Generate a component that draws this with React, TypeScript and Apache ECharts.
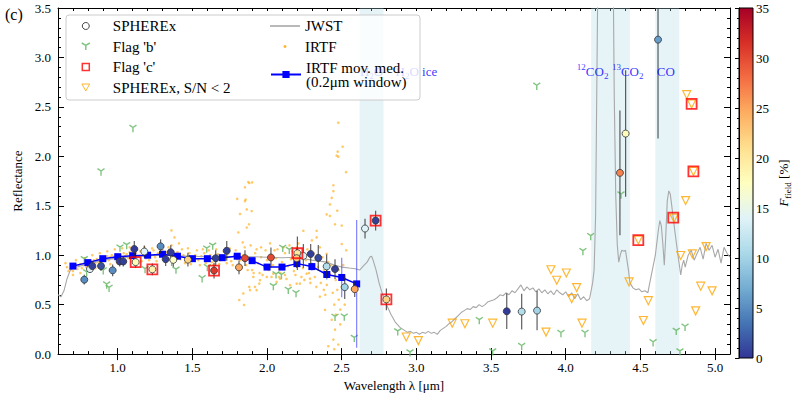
import React, { useEffect, useRef } from 'react';
import * as echarts from 'echarts';

const FONT = 'Liberation Serif';

// JWST spectrum
const JWST_WL = [0.6,0.62,0.64,0.66,0.68,0.7,0.75,0.8,0.85,0.9,0.95,1.0,1.1,1.2,1.3,1.4,1.5,1.6,1.7,1.8,1.9,2.0,2.1,2.2,2.25,2.3,2.35,2.4,2.45,2.5,2.55,2.59,2.62,2.65,2.67,2.69,2.7,2.71,2.73,2.75,2.77,2.8,2.83,2.86,2.89,2.92,2.94,2.96,2.98,3.0,3.02,3.04,3.06,3.08,3.1,3.12,3.14,3.16,3.18,3.2,3.22,3.24,3.26,3.28,3.3,3.32,3.34,3.36,3.38,3.4,3.42,3.44,3.46,3.48,3.5,3.52,3.54,3.56,3.58,3.6,3.62,3.64,3.66,3.68,3.7,3.72,3.74,3.76,3.78,3.8,3.82,3.84,3.86,3.88,3.9,3.92,3.94,3.96,3.98,4.0,4.02,4.04,4.06,4.08,4.1,4.12,4.14,4.16,4.18,4.19,4.2,4.205,4.21,4.215,4.25,4.3,4.318,4.325,4.335,4.345,4.355,4.365,4.375,4.39,4.4,4.41,4.42,4.43,4.45,4.47,4.49,4.51,4.53,4.55,4.56,4.58,4.6,4.62,4.63,4.64,4.65,4.66,4.67,4.68,4.69,4.7,4.71,4.73,4.75,4.77,4.78,4.79,4.8,4.82,4.84,4.86,4.88,4.9,4.92,4.94,4.96,4.98,5.0,5.02,5.04,5.06,5.08,5.1];
const JWST_R = [0.6,0.58,0.64,0.76,0.84,0.87,0.89,0.91,0.93,0.95,0.96,0.97,0.985,0.995,1.0,0.995,0.99,0.985,0.985,0.99,0.985,0.98,0.975,0.98,0.965,0.95,0.94,0.93,0.9,0.88,0.87,0.863,0.85,0.9,0.93,0.985,0.99,0.95,0.85,0.72,0.62,0.5,0.4,0.32,0.27,0.24,0.22,0.23,0.21,0.22,0.2,0.22,0.21,0.23,0.21,0.22,0.2,0.24,0.26,0.28,0.31,0.33,0.36,0.39,0.42,0.44,0.46,0.45,0.48,0.47,0.5,0.48,0.5,0.53,0.54,0.55,0.57,0.6,0.59,0.62,0.6,0.64,0.62,0.66,0.7,0.64,0.68,0.65,0.67,0.63,0.66,0.62,0.65,0.61,0.64,0.6,0.65,0.62,0.6,0.63,0.58,0.62,0.56,0.61,0.55,0.58,0.54,0.56,0.72,0.85,1.4,2.2,3.0,3.8,4.5,4.5,3.8,2.6,1.6,1.11,0.93,1.0,1.05,1.04,1.05,0.95,0.85,0.72,0.67,0.65,0.66,0.63,0.64,0.62,0.7,0.85,1.0,1.25,1.35,1.3,1.12,0.9,1.2,1.55,1.65,1.62,1.5,1.25,1.02,0.8,0.9,0.95,0.88,1.0,1.05,0.95,1.02,1.08,0.96,1.12,1.05,1.1,0.98,1.06,0.92,1.08,1.02,0.98];

// IRTF individual points
const IRTF_PTS: [number, number][] = [
[0.65,0.92],[0.66,0.88],[0.67,0.84],[0.68,0.86],[0.69,0.9],[0.7,0.84],[0.71,0.88],[0.72,0.9],[0.73,0.86],[0.74,0.89],[0.75,0.91],[0.76,0.87],[0.77,0.9],[0.78,0.92],[0.79,0.88],[0.8,0.93],[0.81,0.9],[0.82,0.94],[0.83,0.91],[0.84,0.95],[0.85,0.92],[0.86,0.96],[0.87,0.93],[0.88,0.95],[0.89,0.97],[0.9,0.94],[0.91,0.98],[0.92,0.96],[0.93,0.99],[0.94,0.95],[0.95,0.98],[0.96,1.0],[0.97,0.97],[0.98,0.99],[0.99,1.01],
[1.01,0.97],[1.02,1.0],[1.03,0.98],[1.04,1.02],[1.05,0.99],[1.06,1.01],[1.07,0.97],[1.08,1.03],[1.09,1.0],[1.1,0.98],[1.12,1.02],[1.14,0.99],[1.15,1.04],[1.17,1.0],[1.19,0.97],[1.2,1.02],[1.22,1.0],[1.24,1.05],[1.25,0.98],[1.27,1.02],[1.29,1.0],[1.3,1.06],[1.31,0.97],[1.33,1.03],[1.35,1.0],[1.36,1.1],[1.36,1.25],[1.38,1.18],[1.39,0.98],[1.4,1.03],[1.41,1.12],
[1.42,0.96],[1.44,1.0],[1.46,0.94],[1.48,1.02],[1.5,0.97],[1.52,1.0],[1.54,0.95],[1.56,0.99],[1.58,1.02],[1.6,0.96],[1.62,1.0],[1.63,0.93],[1.65,0.98],[1.67,1.01],[1.69,0.95],[1.7,1.0],[1.72,0.97],[1.74,1.02],[1.76,0.94],[1.78,0.99],[1.8,0.96],
[1.8,1.57],[1.808,1.23],[1.814,0.547],[1.819,1.417],[1.837,1.13],[1.841,0.613],[1.846,0.497],[1.852,1.687],[1.852,1.547],[1.857,1.563],[1.864,1.28],[1.864,1.463],[1.874,1.74],[1.879,1.313],[1.881,0.68],[1.881,1.73],[1.886,0.647],[1.897,1.447],[1.9,1.737],[1.908,0.78],[1.919,0.68],[1.93,0.647],[1.948,0.713],[1.953,0.747],[1.998,0.78],[2.042,0.813],[2.064,0.73],[2.087,0.763],[2.154,0.697],[2.198,0.713],[2.22,0.713],[2.243,1.247],[2.265,0.813],[2.288,0.763],[2.332,1.247],[2.332,1.18],[2.354,1.08],[2.354,0.58],[2.388,0.447],[2.399,1.413],[2.399,1.013],[2.41,0.08],[2.421,1.513],[2.421,1.397],[2.421,0.813],[2.433,1.58],[2.433,0.347],[2.444,1.647],[2.444,1.707],[2.444,0.147],[2.455,1.313],[2.455,0.247],[2.466,2.007],[2.473,2.047],[2.477,2.34],[2.477,1.997],[2.477,0.097],[2.5,1.113],[2.506,2.097],[2.529,1.84],
[1.82,0.95],[1.84,1.0],[1.86,0.9],[1.88,0.97],[1.9,0.85],[1.92,1.02],[1.94,0.92],[1.96,0.98],[1.98,0.88],[2.0,0.95],[2.02,1.0],[2.04,0.9],[2.06,0.97],[2.08,0.86],[2.1,0.93],[2.12,1.02],[2.14,0.89],[2.16,0.96],[2.18,0.84],[2.2,0.93],[2.22,0.99],[2.24,0.87],[2.26,0.95],[2.28,0.82],[2.3,0.91],[2.32,0.78],[2.34,0.88],[2.36,0.72],[2.38,0.85],[2.4,0.7],[2.42,0.8],[2.44,0.62],[2.46,0.75],[2.48,0.55],[2.5,0.68],[2.02,1.12],[2.15,1.1],[2.3,1.15],[1.96,1.08],[2.08,0.78],[2.25,0.75],[2.38,0.65],[2.46,0.4],[2.49,0.3],[2.47,1.45],[2.5,1.3],[2.52,0.5],[2.51,0.9],[2.53,1.05],[2.45,0.05],[2.12,0.8],[1.95,0.82],[2.05,1.05],[2.2,1.08],[2.35,0.95],[2.28,1.02],[2.41,0.93],[2.48,0.85],
[0.7,0.8],[0.72,0.95],[0.75,0.82],[0.78,0.97],[0.8,0.85],[0.83,1.0],[0.85,0.87],[0.88,1.02],[0.9,0.9],[0.93,1.04],[0.95,0.91],[0.98,1.06],[1.0,0.92],[1.03,1.07],[1.05,0.93],[1.08,1.08],[1.1,0.94],[1.13,1.06],[1.16,0.94],[1.18,1.08],[1.21,0.95],[1.23,1.07],[1.26,0.94],[1.28,1.09],[1.32,0.95],[1.34,1.08],[1.37,0.93],[1.43,1.06],[1.45,0.92],[1.47,1.07],[1.49,0.91],[1.53,1.05],[1.55,0.9],[1.57,1.06],[1.59,0.92],[1.61,1.05],[1.64,0.9],[1.66,1.06],[1.68,0.91],[1.71,1.04],[1.73,0.92],[1.75,1.07],[1.77,0.9],[1.79,1.05],[1.83,0.88],[1.85,1.08],[1.87,0.85],[1.89,1.1],[1.91,0.82],[1.93,1.06],[1.97,0.8],[1.99,1.05],[2.01,0.85],[2.03,0.78],[2.07,1.06],[2.09,0.82],[2.11,1.08],[2.13,0.76],[2.17,1.04],[2.19,0.8],[2.21,1.12],[2.23,0.78],[2.27,1.06],[2.29,0.72],[2.31,1.02],[2.33,0.68],[2.37,0.98],[2.39,0.6],[2.43,0.9],[2.45,0.5],[2.47,0.65],[2.49,0.45]
];

// IRTF moving median (0.2 um window)
const MED_WL = [0.7,0.8,0.9,1.0,1.1,1.2,1.3,1.4,1.5,1.6,1.7,1.8,1.9,2.0,2.1,2.2,2.3,2.4,2.5,2.6];
const MED_R = [0.89,0.925,0.965,0.985,0.995,1.0,1.01,0.99,0.965,0.965,0.975,0.99,0.945,0.88,0.88,0.915,0.885,0.805,0.775,0.71];
const MED_ERR = [0.02,0.02,0.02,0.02,0.02,0.02,0.02,0.02,0.02,0.02,0.02,0.02,0.03,0.03,0.03,0.03,0.04,0.05,0.2,0.645];

// SPHEREx points
const SPX_WL = [0.776,0.814,0.83,0.888,0.966,1.013,1.037,1.111,1.12,1.178,1.232,1.287,1.321,1.355,1.372,1.47,1.645,1.656,1.73,1.812,1.852,2.026,2.203,2.198,2.243,2.292,2.343,2.399,2.455,2.52,2.587,2.656,2.727,2.799,3.605,3.705,3.808,4.363,4.401,4.618];
const SPX_R = [0.753,0.86,0.89,0.89,0.847,0.937,0.937,1.063,0.93,1.037,0.857,1.09,0.96,1.03,0.953,0.955,0.845,0.97,1.045,0.877,0.97,0.977,1.02,0.97,0.993,1.013,0.973,0.887,0.86,0.677,0.657,1.27,1.35,0.553,0.433,0.43,0.44,1.833,2.23,3.18];
const SPX_ERR = [0.05,0.04,0.05,0.05,0.06,0.05,0.05,0.08,0.06,0.06,0.06,0.07,0.07,0.07,0.07,0.07,0.08,0.08,0.1,0.07,0.08,0.1,0.17,0.1,0.12,0.1,0.13,0.12,0.1,0.12,0.08,0.1,0.1,0.11,0.18,0.18,0.2,0.63,0.64,1.0];
const SPX_F = [5,14,0.5,1.5,5,0.5,0.5,0.3,18,14,19,5,0.5,0.5,17,22,31,0.5,0.5,25,30,30,20,22,14,0.5,1,11,0.5,10,25,14,0.5,22,0.3,11,10,27,18,6];

const FLAGB_WL = [0.776,0.792,0.888,0.903,0.926,0.942,1.015,1.06,1.102,1.183,1.361,1.39,1.565,1.596,1.6,1.636,2.042,2.06,2.096,2.105,2.142,2.149,2.194,2.455,2.517,2.584,2.875,2.957,3.421,3.511,3.705,3.806,3.968,4.115,4.129,4.167,4.37,4.585,4.74,4.765,4.799];
const FLAGB_R = [0.953,0.82,1.84,0.84,0.697,0.663,1.07,1.095,2.28,0.853,0.927,0.847,0.76,1.06,0.873,1.09,0.68,0.8,0.793,1.068,0.643,1.047,0.61,0.37,0.373,0.157,0.223,0.01,0.337,0.02,0.075,2.707,0.207,1.035,0.207,1.187,1.607,0.113,0.228,0.02,0.27];

const FLAGC_WL = [1.12,1.232,1.645,2.203,2.727,2.799,4.486,4.72,4.843,4.855];
const FLAGC_R = [0.93,0.857,0.845,1.02,1.35,0.553,1.153,1.38,2.53,1.847];

const LOWSN_WL = [2.932,3.013,3.24,3.325,3.511,3.868,3.901,3.94,4.004,4.04,4.073,4.109,4.424,4.486,4.52,4.553,4.725,4.77,4.803,4.81,4.843,4.848,4.855,4.87,4.904,4.94,4.98];
const LOWSN_R = [0.173,0.137,0.313,0.307,0.313,0.223,0.853,0.747,0.82,0.56,0.673,0.313,0.73,1.153,0.34,0.54,1.375,0.997,1.553,2.623,2.53,1.013,1.847,0.437,0.687,1.087,0.64];

const BANDS: [number, number][] = [[2.62, 2.78], [4.17, 4.43], [4.6, 4.76]];
const BAND_LABEL_X = [2.7, 3.0, 4.18, 4.415, 4.67];
const BAND_LABEL_Y = [2.86, 2.86, 2.86, 2.86, 2.86];
const BAND_LABEL_TEXT = ['{n|H}{s|2}{n|O}', '{n|H}{s|2}{n|O ice}', '{p|12}{n|CO}{s|2}', '{p|13}{n|CO}{s|2}', '{n|CO}'];

const X_MAJOR = [1.0, 1.5, 2.0, 2.5, 3.0, 3.5, 4.0, 4.5, 5.0];
const CMAP = ['#313695', '#4575b4', '#74add1', '#abd9e9', '#e0f3f8', '#ffffbf', '#fee090', '#fdae61', '#f46d43', '#d73027', '#a50026'];

const MED_NAME = 'IRTF mov. med.\n(0.2\u03bcm window)';
const TRI_DOWN = 'path://M5,5 L5,10 M5,5 L0.67,2.5 M5,5 L9.33,2.5';
const SQUARE = 'path://M0,0 L10,0 L10,10 L0,10 Z';
const GREEN = '#62b562';

function errRender(color: string, width: number) {
  return (params: any, api: any) => {
    const x = api.value(0);
    const p1 = api.coord([x, api.value(1)]);
    const p2 = api.coord([x, api.value(2)]);
    return {
      type: 'line',
      shape: { x1: p1[0], y1: p1[1], x2: p2[0], y2: p2[1] },
      style: { stroke: color, lineWidth: width },
    };
  };
}

export default function App() {
  const ref = useRef<HTMLDivElement>(null);
  useEffect(() => {
    const chart = echarts.init(ref.current!, null, { renderer: 'svg' });
    const txt = { fontFamily: FONT, fontSize: 13, color: '#000' };
    const baseX = { type: 'value', gridIndex: 0, min: 0.6, max: 5.1, splitLine: { show: false } };
    const baseY = { type: 'value', gridIndex: 0, min: 0, max: 3.5, interval: 0.5, splitLine: { show: false } };
    const legText = { fontFamily: FONT, fontSize: 15, color: '#000', lineHeight: 15 };

    const option: any = {
      animation: false,
      backgroundColor: '#fff',
      textStyle: { fontFamily: FONT },
      grid: [
        { left: 58, top: 8, width: 672, height: 350 },
        { left: 739, top: 8, width: 14, height: 350 },
      ],
      xAxis: [
        {
          ...baseX, position: 'bottom', interval: 0.1,
          axisLine: { show: true, onZero: false, lineStyle: { color: '#000', width: 1 } },
          axisTick: { show: true, inside: true, length: 3, lineStyle: { color: '#000' } },
          axisLabel: {
            ...txt, margin: 7,
            formatter: (v: number) => (Math.abs(v * 2 - Math.round(v * 2)) < 1e-6 && v > 0.7 && v < 5.05 ? v.toFixed(1) : ''),
          },
          name: 'Wavelength \u03bb [\u03bcm]', nameLocation: 'middle', nameGap: 21,
          nameTextStyle: { ...txt },
        },
        {
          ...baseX, position: 'bottom',
          axisLine: { show: false },
          axisTick: { show: true, inside: true, length: 6, customValues: X_MAJOR, lineStyle: { color: '#000' } },
          axisLabel: { show: false },
        },
        {
          ...baseX, position: 'top', interval: 0.1,
          axisLine: { show: true, onZero: false, lineStyle: { color: '#000', width: 1 } },
          axisTick: { show: true, inside: true, length: 3, lineStyle: { color: '#000' } },
          axisLabel: { show: false },
        },
        {
          ...baseX, position: 'top',
          axisLine: { show: false },
          axisTick: { show: true, inside: true, length: 6, customValues: X_MAJOR, lineStyle: { color: '#000' } },
          axisLabel: { show: false },
        },
        { type: 'value', gridIndex: 1, min: 0, max: 1, show: false },
      ],
      yAxis: [
        {
          ...baseY, position: 'left',
          axisLine: { show: true, onZero: false, lineStyle: { color: '#000', width: 1 } },
          axisTick: { show: true, inside: true, length: 6, lineStyle: { color: '#000' } },
          minorTick: { show: true, splitNumber: 5, length: 3, lineStyle: { color: '#000' } },
          axisLabel: { ...txt, margin: 7, formatter: (v: number) => v.toFixed(1) },
          name: 'Reflectance', nameLocation: 'middle', nameGap: 31, nameRotate: 90,
          nameTextStyle: { ...txt },
        },
        {
          ...baseY, position: 'right',
          axisLine: { show: true, onZero: false, lineStyle: { color: '#000', width: 1 } },
          axisTick: { show: true, inside: true, length: 6, lineStyle: { color: '#000' } },
          minorTick: { show: true, splitNumber: 5, length: 3, lineStyle: { color: '#000' } },
          axisLabel: { show: false },
        },
        {
          type: 'value', gridIndex: 1, position: 'right', min: 0, max: 35, interval: 5, z: 30,
          splitLine: { show: false },
          axisLine: { show: true, lineStyle: { color: '#000', width: 1 } },
          axisTick: { show: true, inside: true, length: 4, lineStyle: { color: '#000' } },
          minorTick: { show: true, splitNumber: 5, length: 2, lineStyle: { color: '#000' } },
          axisLabel: { ...txt, margin: 5 },
          name: '{i|F}{s|field}{n| [%]}', nameLocation: 'middle', nameGap: 23, nameRotate: 90,
          nameTextStyle: {
            ...txt,
            rich: {
              i: { fontFamily: FONT, fontSize: 13, fontStyle: 'italic', lineHeight: 18, color: '#000' },
              s: { fontFamily: FONT, fontSize: 9, verticalAlign: 'bottom', color: '#000' },
              n: { fontFamily: FONT, fontSize: 13, lineHeight: 18, color: '#000' },
            },
          },
        },
      ],
      visualMap: {
        type: 'continuous', show: false, min: 0, max: 35, dimension: 2, seriesIndex: 7,
        inRange: { color: CMAP },
      },
      graphic: [
        {
          type: 'rect', z: 1, silent: true,
          shape: { x: 739, y: 8, width: 14, height: 350 },
          style: {
            fill: new echarts.graphic.LinearGradient(0, 1, 0, 0, CMAP.map((c, i) => ({ offset: i / (CMAP.length - 1), color: c }))),
          },
        },
        {
          type: 'rect', z: 31, silent: true,
          shape: { x: 739, y: 8, width: 14, height: 350 },
          style: { fill: 'none', stroke: '#000', lineWidth: 1 },
        },
        {
          type: 'rect', z: 20, silent: true,
          shape: { x: 66, y: 15, width: 354, height: 85, r: 3 },
          style: { fill: 'rgba(255,255,255,0.8)', stroke: '#cccccc', lineWidth: 1 },
        },
        {
          type: 'text', z: 20, left: 5, top: 6,
          style: { text: '(c)', fontFamily: FONT, fontSize: 16, fill: '#000' },
        },
      ],
      legend: [
        {
          orient: 'vertical', left: 81, top: 18.5, itemWidth: 44, itemHeight: 7, itemGap: 5.5, padding: 0,
          selectedMode: false, z: 21,
          textStyle: legText,
          data: [
            { name: 'SPHEREx', icon: 'circle', itemStyle: { color: 'rgba(0,0,0,0)', borderColor: '#444', borderWidth: 1 } },
            { name: "Flag 'b'", icon: TRI_DOWN, itemStyle: { color: 'rgba(0,0,0,0)', borderColor: GREEN, borderWidth: 1.5 } },
            { name: "Flag 'c'", icon: SQUARE, itemStyle: { color: 'rgba(0,0,0,0)', borderColor: '#ff0000', borderWidth: 1.5 } },
            { name: 'SPHEREx, S/N < 2', icon: 'path://M0,0 L10,0 L5,9 Z', itemStyle: { color: 'rgba(0,0,0,0)', borderColor: '#ffa500', borderWidth: 1 } },
          ],
        },
        {
          orient: 'vertical', left: 270, top: 18.5, itemWidth: 30, itemHeight: 1.6, padding: 0,
          selectedMode: false, z: 21,
          textStyle: legText,
          data: [{ name: 'JWST', icon: 'rect', itemStyle: { color: '#a8a8a8' } }],
        },
        {
          orient: 'vertical', left: 283.5, top: 39, itemWidth: 30, itemHeight: 3, padding: 0,
          selectedMode: false, z: 21,
          textStyle: legText,
          data: [{ name: 'IRTF', icon: 'circle', itemStyle: { color: '#ffa500', opacity: 0.8 } }],
        },
        {
          orient: 'vertical', left: 270, top: 60, itemWidth: 30, itemHeight: 9, padding: 0,
          selectedMode: false, z: 21,
          textStyle: { ...legText, lineHeight: 14 },
          data: [{ name: MED_NAME }],
        },
      ],
      series: [
        {
          name: 'bands', type: 'line', xAxisIndex: 0, yAxisIndex: 0, data: [], z: 1, silent: true,
          markArea: {
            silent: true,
            itemStyle: { color: 'rgba(173,216,230,0.3)' },
            data: BANDS.map(([a, b]) => [{ xAxis: a }, { xAxis: b }]),
          },
        },
        {
          name: 'IRTF', type: 'scatter', xAxisIndex: 0, yAxisIndex: 0, z: 2, silent: true,
          symbol: 'circle', symbolSize: 2.6,
          itemStyle: { color: '#ffa500', opacity: 0.6 },
          data: IRTF_PTS,
        },
        {
          name: 'JWST', type: 'line', xAxisIndex: 0, yAxisIndex: 0, z: 3, silent: true,
          symbol: 'none', showSymbol: false, clip: true,
          lineStyle: { color: '#a8a8a8', width: 1.1 },
          itemStyle: { color: '#a8a8a8' },
          data: JWST_WL.map((w, i) => [w, JWST_R[i]]),
        },
        {
          name: "Flag 'b'", type: 'scatter', xAxisIndex: 0, yAxisIndex: 0, z: 4, silent: true,
          symbol: TRI_DOWN, symbolSize: 7,
          itemStyle: { color: 'rgba(0,0,0,0)', borderColor: GREEN, borderWidth: 1.4 },
          data: FLAGB_WL.map((w, i) => [w, FLAGB_R[i]]),
        },
        {
          name: 'med err', type: 'custom', xAxisIndex: 0, yAxisIndex: 0, z: 5, silent: true, clip: true,
          renderItem: errRender('rgba(60,60,255,0.65)', 1.2),
          encode: { x: 0, y: [1, 2] },
          data: MED_WL.map((w, i) => [w, MED_R[i] - MED_ERR[i], MED_R[i] + MED_ERR[i]]),
        },
        {
          name: MED_NAME, type: 'line', xAxisIndex: 0, yAxisIndex: 0, z: 5, silent: true,
          symbol: 'rect', symbolSize: 7, showSymbol: true,
          lineStyle: { color: '#0000ff', width: 1.5 },
          itemStyle: { color: '#0000ff' },
          data: MED_WL.map((w, i) => [w, MED_R[i]]),
        },
        {
          name: 'spx err', type: 'custom', xAxisIndex: 0, yAxisIndex: 0, z: 6, silent: true, clip: true,
          renderItem: errRender('rgba(40,40,40,0.75)', 1.2),
          encode: { x: 0, y: [1, 2] },
          data: SPX_WL.map((w, i) => [w, SPX_R[i] - SPX_ERR[i], SPX_R[i] + SPX_ERR[i]]),
        },
        {
          name: 'SPHEREx', type: 'scatter', xAxisIndex: 0, yAxisIndex: 0, z: 7, silent: true,
          symbol: 'circle', symbolSize: 7,
          itemStyle: { borderColor: '#333', borderWidth: 0.8, opacity: 1 },
          data: SPX_WL.map((w, i) => [w, SPX_R[i], SPX_F[i]]),
        },
        {
          name: 'SPHEREx, S/N < 2', type: 'scatter', xAxisIndex: 0, yAxisIndex: 0, z: 7, silent: true,
          symbol: 'triangle', symbolRotate: 180, symbolSize: 8,
          itemStyle: { color: 'rgba(255,255,255,0)', borderColor: '#ffa500', borderWidth: 1.2 },
          data: LOWSN_WL.map((w, i) => [w, LOWSN_R[i]]),
        },
        {
          name: "Flag 'c'", type: 'scatter', xAxisIndex: 0, yAxisIndex: 0, z: 8, silent: true,
          symbol: 'rect', symbolSize: 10,
          itemStyle: { color: 'rgba(255,0,0,0)', borderColor: '#ff0000', borderWidth: 1.8 },
          data: FLAGC_WL.map((w, i) => [w, FLAGC_R[i]]),
        },
        {
          name: 'band labels', type: 'scatter', xAxisIndex: 0, yAxisIndex: 0, z: 9, silent: true,
          symbol: 'circle', symbolSize: 1,
          itemStyle: { color: 'rgba(0,0,0,0)' },
          label: {
            show: true, position: 'inside', formatter: '{b}',
            rich: {
              n: { fontFamily: FONT, fontSize: 13, color: '#0000ff', lineHeight: 18 },
              s: { fontFamily: FONT, fontSize: 9, color: '#0000ff', verticalAlign: 'bottom' },
              p: { fontFamily: FONT, fontSize: 9, color: '#0000ff', verticalAlign: 'top' },
            },
          },
          data: BAND_LABEL_X.map((x, i) => ({ value: [x, BAND_LABEL_Y[i]], name: BAND_LABEL_TEXT[i] })),
        },
      ],
    };
    chart.setOption(option);
    return () => chart.dispose();
  }, []);
  return <div ref={ref} style={{ position: 'fixed', left: 0, top: 0, width: 793, height: 397, background: '#fff' }} />;
}
